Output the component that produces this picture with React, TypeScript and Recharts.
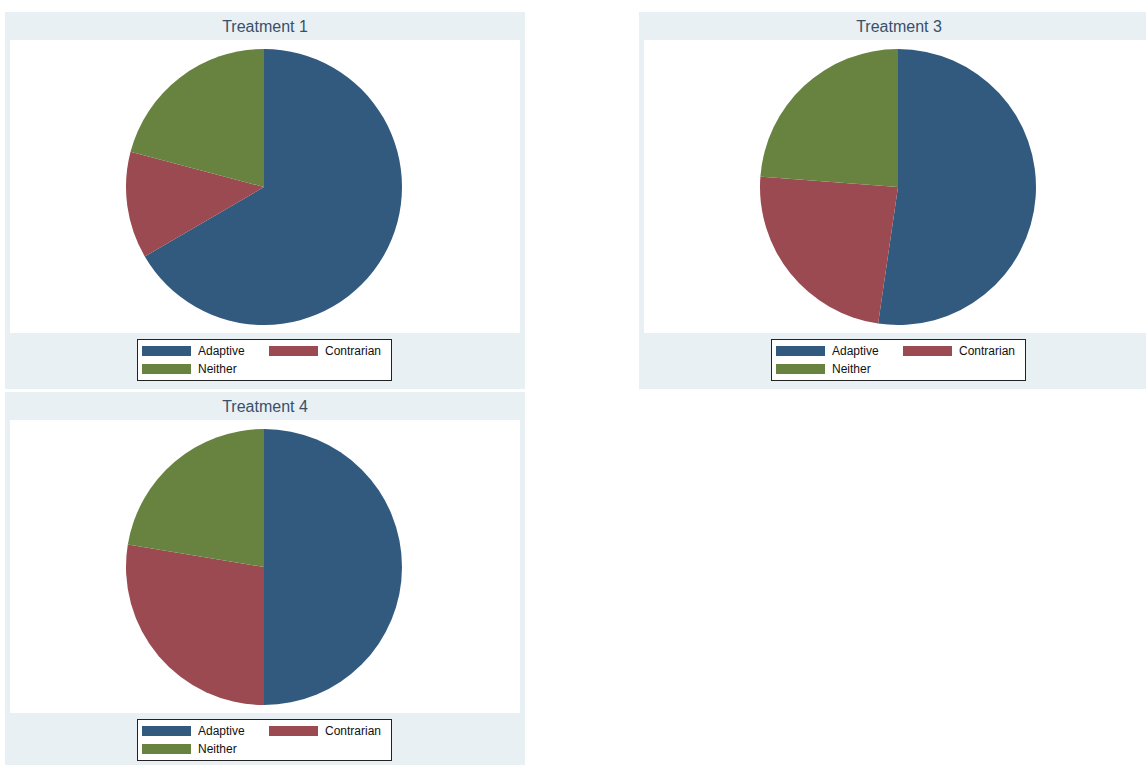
import { PieChart, Pie, Cell } from 'recharts';

const categories = ['Adaptive', 'Contrarian', 'Neither'];
const colors = ['#325a7e', '#9a4a50', '#67833f'];
const treatment1 = [66.6, 12.5, 20.9];
const treatment3 = [52.3, 23.9, 23.8];
const treatment4 = [50.0, 27.6, 22.4];

function Panel({ title, values, left, top }: { title: string; values: number[]; left: number; top: number }) {
    const data = categories.map((name, i) => ({ name, value: values[i] }));
    return (
        <div style={{ position: 'absolute', left, top, width: 520, height: 377, background: '#e8f0f3' }}>
            <div style={{ position: 'absolute', top: 6, width: '100%', textAlign: 'center', fontSize: 16, color: '#3a4f6a', fontFamily: 'Liberation Sans, Arial, sans-serif' }}>
                {title}
            </div>
            <div style={{ position: 'absolute', left: 5, top: 28, width: 510, height: 293, background: '#fff' }}>
                <PieChart width={510} height={293} margin={{ top: 0, right: 0, bottom: 0, left: 0 }}>
                    <Pie
                        data={data}
                        dataKey="value"
                        cx={254}
                        cy={147}
                        outerRadius={138}
                        startAngle={90}
                        endAngle={-270}
                        stroke="none"
                        isAnimationActive={false}
                    >
                        {data.map((d, i) => <Cell key={d.name} fill={colors[i]} />)}
                    </Pie>
                </PieChart>
            </div>
            {/* legend */}
            <div style={{ position: 'absolute', left: 132, top: 327, width: 253, height: 40, background: '#fff', border: '1px solid #222', fontFamily: 'Liberation Sans, Arial, sans-serif', fontSize: 12, color: '#111' }}>
                {categories.map((c, i) => {
                    const col = i % 2, row = Math.floor(i / 2);
                    return (
                        <div key={c} style={{ position: 'absolute', left: 4 + col * 127, top: 5 + row * 18, display: 'flex', alignItems: 'center', height: 12 }}>
                            <div style={{ width: 49, height: 10, background: colors[i], marginRight: 7 }} />
                            <span>{c}</span>
                        </div>
                    );
                })}
            </div>
        </div>
    );
}

export default function App() {
    return (
        <div style={{ position: 'absolute', left: 0, top: 0, width: 1146, height: 765, overflow: 'hidden', background: '#fff' }}>
            <Panel title="Treatment 1" values={treatment1} left={5} top={12} />
            <Panel title="Treatment 3" values={treatment3} left={639} top={12} />
            <Panel title="Treatment 4" values={treatment4} left={5} top={392} />
        </div>
    );
}
